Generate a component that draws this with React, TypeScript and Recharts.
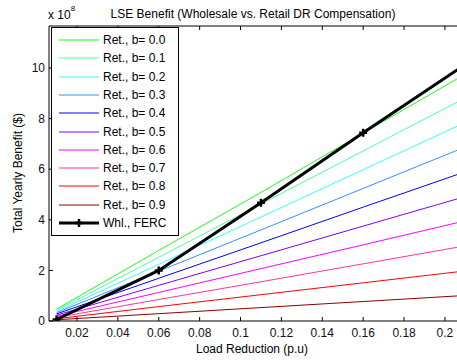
import { LineChart, Line, XAxis, YAxis, Legend } from 'recharts'

// load reduction (p.u) where the curves were sampled
const loadReduction = [0.01, 0.06, 0.11, 0.16, 0.21]

// total yearly benefit, in units of 1e8 $
const retB00 = [0.47, 2.79, 5.08, 7.43, 9.76]
const retB01 = [0.42, 2.52, 4.62, 6.72, 8.82]
const retB02 = [0.37, 2.24, 4.11, 5.98, 7.85]
const retB03 = [0.33, 1.97, 3.60, 5.24, 6.88]
const retB04 = [0.28, 1.69, 3.09, 4.50, 5.90]
const retB05 = [0.23, 1.41, 2.58, 3.75, 4.92]
const retB06 = [0.19, 1.13, 2.07, 3.01, 3.96]
const retB07 = [0.14, 0.85, 1.55, 2.26, 2.97]
const retB08 = [0.09, 0.57, 1.04, 1.51, 1.98]
const retB09 = [0.05, 0.29, 0.53, 0.77, 1.01]
const wholesaleFerc = [0.06, 2.0, 4.67, 7.44, 10.14]

const betaLabels = ['0.0', '0.1', '0.2', '0.3', '0.4', '0.5', '0.6', '0.7', '0.8', '0.9']
const retailSeries = [retB00, retB01, retB02, retB03, retB04, retB05, retB06, retB07, retB08, retB09]
const retailColors = [
  '#1aff1a', '#4dffa6', '#33ffff', '#3b8cff', '#0000ff',
  '#8000ff', '#ff00ff', '#ff3399', '#ff0000', '#8c0000',
]

const xTicks = [0.02, 0.04, 0.06, 0.08, 0.1, 0.12, 0.14, 0.16, 0.18, 0.2]
const yTicks = [0, 2, 4, 6, 8, 10]

const data = loadReduction.map((x, i) => {
  const row: Record<string, number> = { x, whl: wholesaleFerc[i] }
  retailSeries.forEach((s, k) => {
    row[`b${k}`] = s[i]
  })
  return row
})

const FONT = '"Liberation Sans", Arial, sans-serif'

const PlusDot = (props: any) => {
  const { cx, cy, index } = props
  if (cx == null || cy == null) return <g key={`p-${index}`} />
  return (
    <path
      key={`p-${index}`}
      d={`M${cx - 4},${cy}H${cx + 4}M${cx},${cy - 4}V${cy + 4}`}
      stroke="#000"
      strokeWidth={2.5}
      fill="none"
    />
  )
}

const legendRows = [
  ...betaLabels.map((b, k) => ({ label: `Ret., b= ${b}`, color: retailColors[k], marker: false })),
  { label: 'Whl., FERC', color: '#000', marker: true },
]

const LegendBox = () => (
  <div
    style={{
      width: 128,
      height: 209,
      boxSizing: 'border-box',
      border: '1px solid #000',
      background: '#fff',
      position: 'relative',
      fontFamily: FONT,
      fontSize: 12,
      color: '#000',
    }}
  >
    {legendRows.map((r, i) => (
      <div
        key={r.label}
        style={{
          position: 'absolute',
          left: 7,
          top: 3 + 18.3 * i,
          height: 18,
          display: 'flex',
          alignItems: 'center',
          whiteSpace: 'nowrap',
        }}
      >
        <svg width={40} height={18} style={{ display: 'block' }}>
          <line x1={0} y1={9} x2={40} y2={9} stroke={r.color} strokeWidth={r.marker ? 3 : 1} />
          {r.marker && <path d="M16,9H24M20,5V13" stroke="#000" strokeWidth={2.5} />}
        </svg>
        <span style={{ marginLeft: 4, lineHeight: '18px' }}>{r.label}</span>
      </div>
    ))}
  </div>
)

const TitleLabel = () => (
  <g fontFamily={FONT} fill="#000">
    <text x={253} y={18} fontSize={12} textAnchor="middle">
      LSE Benefit (Wholesale vs. Retail DR Compensation)
    </text>
    <text x={48} y={19} fontSize={12}>
      x 10
      <tspan fontSize={8} dy={-8}>8</tspan>
    </text>
  </g>
)

const XLabel = () => (
  <text x={252} y={353} fontSize={12} textAnchor="middle" fontFamily={FONT} fill="#000">
    Load Reduction (p.u)
  </text>
)

const YLabel = () => (
  <text
    x={22}
    y={173}
    fontSize={12}
    textAnchor="middle"
    fontFamily={FONT}
    fill="#000"
    transform="rotate(-90 22 173)"
  >
    Total Yearly Benefit ($)
  </text>
)

export default function App() {
  return (
    <div style={{ position: 'absolute', left: 0, top: 0, width: 457, height: 360, background: '#fff' }}>
      <LineChart width={457} height={360} data={data} margin={{ top: 6, right: 0, left: 9, bottom: 9 }}>
        <XAxis
          xAxisId="b"
          dataKey="x"
          type="number"
          domain={[0.0063, 0.2059]}
          allowDataOverflow
          ticks={xTicks}
          tickSize={-4}
          tickMargin={11}
          height={30}
          axisLine={{ stroke: '#000' }}
          tickLine={{ stroke: '#000' }}
          tick={{ fill: '#111', fontSize: 12, fontFamily: FONT }}
          label={<XLabel />}
        />
        <XAxis
          xAxisId="t"
          orientation="top"
          dataKey="x"
          type="number"
          domain={[0.0063, 0.2059]}
          allowDataOverflow
          ticks={xTicks}
          tickSize={-4}
          tickFormatter={() => ''}
          height={20}
          axisLine={{ stroke: '#000' }}
          tickLine={{ stroke: '#000' }}
          label={<TitleLabel />}
        />
        <YAxis
          yAxisId="l"
          type="number"
          domain={[0, 11.66]}
          allowDataOverflow
          ticks={yTicks}
          tickSize={-4}
          tickMargin={8}
          width={40}
          axisLine={{ stroke: '#000' }}
          tickLine={{ stroke: '#000' }}
          tick={{ fill: '#111', fontSize: 12, fontFamily: FONT }}
          label={<YLabel />}
        />
        <YAxis
          yAxisId="r"
          orientation="right"
          type="number"
          domain={[0, 11.66]}
          allowDataOverflow
          ticks={yTicks}
          tickSize={-4}
          tickFormatter={() => ''}
          width={0}
          axisLine={false}
          tickLine={{ stroke: '#000' }}
        />
        <Legend
          layout="vertical"
          align="center"
          verticalAlign="middle"
          content={() => <LegendBox />}
          wrapperStyle={{ position: 'absolute', left: 51, top: 27, width: 128, height: 209 }}
        />
        {retailSeries.map((_, k) => (
          <Line
            key={`b${k}`}
            xAxisId="b"
            yAxisId="l"
            dataKey={`b${k}`}
            name={`Ret., b= ${betaLabels[k]}`}
            stroke={retailColors[k]}
            strokeWidth={1}
            dot={false}
            activeDot={false}
            isAnimationActive={false}
          />
        ))}
        <Line
          xAxisId="b"
          yAxisId="l"
          dataKey="whl"
          name="Whl., FERC"
          stroke="#000"
          strokeWidth={3}
          dot={PlusDot}
          activeDot={false}
          isAnimationActive={false}
        />
      </LineChart>
    </div>
  )
}
